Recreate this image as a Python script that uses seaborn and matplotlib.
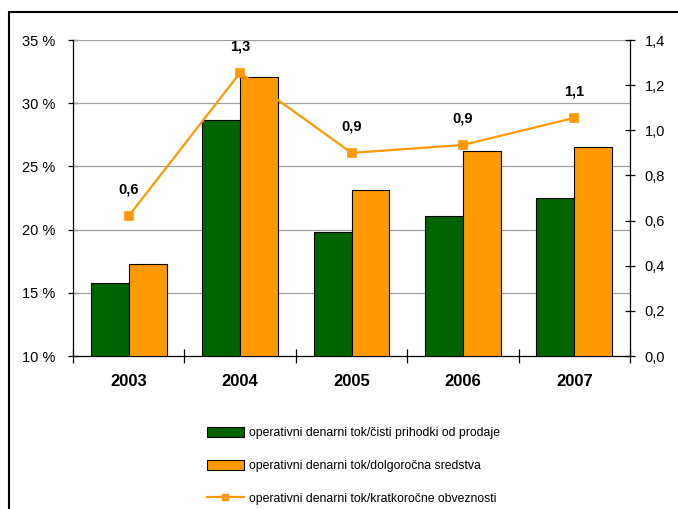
import matplotlib
matplotlib.use("Agg")
import matplotlib.pyplot as plt
import seaborn as sns
import pandas as pd
from matplotlib.patches import Patch, Rectangle
from matplotlib.lines import Line2D
from matplotlib.ticker import FuncFormatter, FixedLocator

years = ["2003", "2004", "2005", "2006", "2007"]
green_vals = [15.8, 28.7, 19.8, 21.1, 22.5]
orange_vals = [17.3, 32.1, 23.1, 26.2, 26.5]
line_vals = [0.62, 1.255, 0.90, 0.935, 1.055]
line_labels = ["0,6", "1,3", "0,9", "0,9", "1,1"]
s1 = "operativni denarni tok/čisti prihodki od prodaje"
s2 = "operativni denarni tok/dolgoročna sredstva"
s3 = "operativni denarni tok/kratkoročne obveznosti"

GREEN = "#006400"
ORANGE = "#FF9900"

sns.set_theme(style="white")
plt.rcParams["font.family"] = ["Liberation Sans", "DejaVu Sans"]
plt.rcParams["text.color"] = "black"
plt.rcParams["xtick.color"] = "black"
plt.rcParams["ytick.color"] = "black"

df = pd.DataFrame({
    "year": years * 2,
    "value": green_vals + orange_vals,
    "series": [s1] * 5 + [s2] * 5,
})

fig = plt.figure(figsize=(6.78, 5.09), dpi=100)
ax = fig.add_axes([73 / 678, 1 - 356 / 509, (630 - 73) / 678, (356 - 40) / 509])

sns.barplot(data=df, x="year", y="value", hue="series", order=years,
            hue_order=[s1, s2], palette=[GREEN, ORANGE], width=0.68,
            saturation=1, edgecolor="black", linewidth=0.8, ax=ax,
            legend=False, zorder=3)
ax.set_ylim(10, 35)
ax.set_xlim(-0.5, 4.5)
ax.set_yticks([10, 15, 20, 25, 30, 35])
ax.yaxis.set_major_formatter(FuncFormatter(lambda v, p: f"{int(v)} %"))
for v in [15, 20, 25, 30, 35]:
    ax.axhline(v, color="#a0a0a0", linewidth=0.9, zorder=1)
ax.set_xlabel("")
ax.set_ylabel("")
for sp in ["top", "right"]:
    ax.spines[sp].set_visible(False)
for sp in ["left", "bottom"]:
    ax.spines[sp].set_color("black")
    ax.spines[sp].set_linewidth(0.9)
ax.tick_params(axis="y", direction="inout", length=7, width=0.9, color="black",
               labelsize=10.5, pad=9, left=True, labelcolor="black")
ax.tick_params(axis="x", which="major", length=0, labelsize=12, pad=13,
               labelcolor="black")
for lab in ax.get_xticklabels():
    lab.set_fontweight("bold")
ax.xaxis.set_minor_locator(FixedLocator([-0.5, 0.5, 1.5, 2.5, 3.5, 4.5]))
ax.tick_params(axis="x", which="minor", direction="inout", length=10, width=0.9,
               color="black", bottom=True)

ax2 = ax.twinx()
sns.pointplot(x=years, y=line_vals, order=years, color=ORANGE, markers="s",
              linewidth=1.6, markersize=5.5, ax=ax2, zorder=4)
ax2.set_xlim(-0.5, 4.5)
ax2.set_ylim(0, 1.4)
ax2.set_yticks([0, 0.2, 0.4, 0.6, 0.8, 1.0, 1.2, 1.4])
ax2.yaxis.set_major_formatter(FuncFormatter(lambda v, p: f"{v:.1f}".replace(".", ",")))
for sp in ["top", "left", "bottom"]:
    ax2.spines[sp].set_visible(False)
ax2.spines["right"].set_color("black")
ax2.spines["right"].set_linewidth(0.9)
ax2.tick_params(axis="y", direction="inout", length=7, width=0.9, color="black",
                labelsize=10.5, pad=7, right=True, labelcolor="black")
ax2.set_ylabel("")
for i, (v, t) in enumerate(zip(line_vals, line_labels)):
    ax2.annotate(t, (i, v), xytext=(0, 19), textcoords="offset points",
                 ha="center", va="center", fontsize=10.5, fontweight="bold",
                 color="black")

handles = [
    Patch(facecolor=GREEN, edgecolor="black", linewidth=0.8),
    Patch(facecolor=ORANGE, edgecolor="black", linewidth=0.8),
    Line2D([0], [0], color=ORANGE, linewidth=1.6, marker="s", markersize=5),
]
fig.legend(handles, [s1, s2, s3], loc="upper left",
           bbox_to_anchor=(201 / 678, 1 - 421 / 509), frameon=False,
           fontsize=8.8, labelspacing=1.68, handlelength=3.0, handleheight=0.9,
           handletextpad=0.4, borderpad=0)

fig.patches.append(Rectangle((9 / 678, -0.1), 1.0, 1 - 12 / 509 + 0.1,
                             transform=fig.transFigure, fill=False,
                             edgecolor="black", linewidth=1.5))

fig.savefig("out.png", dpi=100)
